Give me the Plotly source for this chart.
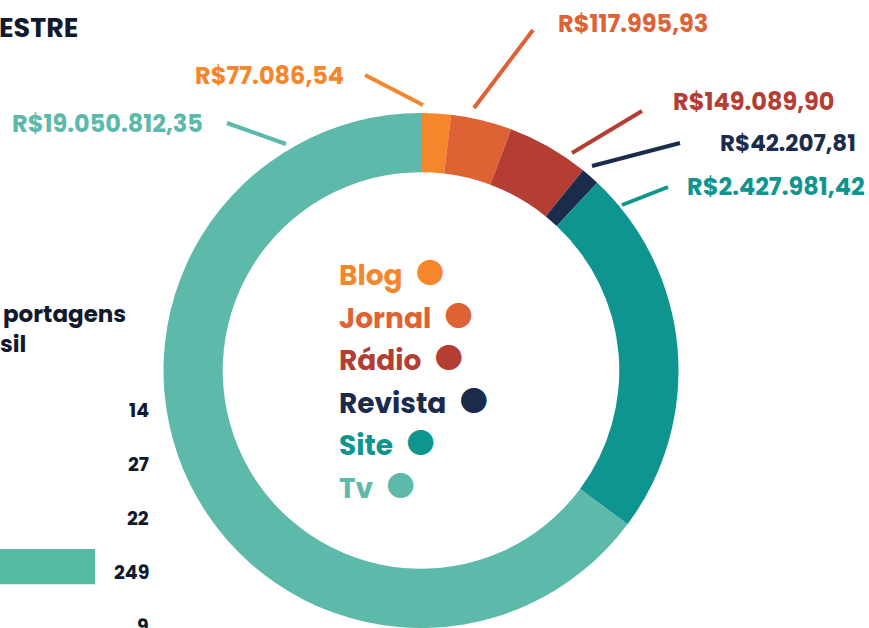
import plotly.graph_objects as go

W, H = 869, 628

# ring slices (the source ring is not drawn to scale: shares)
channels = ["Blog", "Jornal", "Rádio", "Revista", "Site", "Tv"]
ring_share = [1.86, 3.83, 5.14, 1.17, 23.19, 64.81]
amounts = ["R$77.086,54", "R$117.995,93", "R$149.089,90",
           "R$42.207,81", "R$2.427.981,42", "R$19.050.812,35"]
colors = ["#F5862B", "#DE6234", "#B43D34", "#1B2B4B", "#0F958F", "#5DB9A9"]

# partly visible bar chart on the left
bar_rows = ["a", "b", "c", "d", "e"]
bar_values = [14, 27, 22, 249, 9]

FONT = "Poppins, Inter, sans-serif"
NAVY = "#111a2c"


def px(x):
    return x / W


def py(y):
    return 1 - y / H


fig = go.Figure()

fig.add_trace(go.Pie(
    labels=channels, values=ring_share,
    marker=dict(colors=colors, line=dict(width=0)),
    hole=0.77, sort=False, direction="clockwise", rotation=0,
    textinfo="none", hoverinfo="label",
    domain=dict(x=[px(163), px(679)], y=[0, py(113)]),
))

fig.add_trace(go.Bar(
    x=bar_values, y=bar_rows, orientation="h",
    marker=dict(color="#52BBA0", line=dict(width=0)),
    width=0.65, offset=-0.425, hoverinfo="x",
))

# value labels of the ring
label_pos = {
    # name: (x, y, anchor, line from, line to)
    "Blog": (346, 75, "right", (365, 75), (423, 105)),
    "Jornal": (556, 24, "left", (533, 30), (474, 108)),
    "Rádio": (671, 101, "left", (642, 111), (572, 153)),
    "Revista": (718, 143, "left", (680, 143), (592, 166)),
    "Site": (685, 186, "left", (668, 187), (622, 205)),
    "Tv": (205, 123, "right", (227, 123), (286, 144)),
}

annotations = []
shapes = []
for name, amt, col in zip(channels, amounts, colors):
    x, y, anchor, p0, p1 = label_pos[name]
    annotations.append(dict(
        x=px(x), y=py(y), xref="paper", yref="paper",
        xanchor=anchor, yanchor="middle", showarrow=False,
        text=amt, font=dict(family=FONT, size=24 if name != "Revista" else 23,
                            color=col, weight=700),
    ))
    shapes.append(dict(
        type="line", xref="paper", yref="paper",
        x0=px(p0[0]), y0=py(p0[1]), x1=px(p1[0]), y1=py(p1[1]),
        line=dict(color=col, width=4),
    ))

# legend in the hole
for i, (name, col) in enumerate(zip(channels, colors)):
    annotations.append(dict(
        x=px(337), y=py(273 + 42.6 * i), xref="paper", yref="paper",
        xanchor="left", yanchor="middle", showarrow=False,
        text=f"{name}&nbsp;&nbsp;<span style='font-size:34px'>●</span>",
        font=dict(family=FONT, size=28, color=col, weight=700),
    ))

# numbers beside the bars
for row, v in zip(bar_rows, bar_values):
    annotations.append(dict(
        x=px(151), y=row, xref="paper", yref="y",
        xanchor="right", yanchor="middle", showarrow=False,
        text=str(v), font=dict(family=FONT, size=19, color=NAVY, weight=700),
    ))

# cut-off headings
heads = [("ESTRE", 80, 28, 27), ("portagens", 128, 314, 23), ("sil", 28, 344, 23)]
for txt, x, y, size in heads:
    annotations.append(dict(
        x=px(x), y=py(y), xref="paper", yref="paper", xanchor="right", yanchor="middle",
        showarrow=False, text=txt,
        font=dict(family=FONT, size=size, color=NAVY, weight=700),
    ))

fig.update_layout(
    width=W, height=H,
    margin=dict(l=0, r=0, t=0, b=0),
    paper_bgcolor="white", plot_bgcolor="white",
    showlegend=False,
    xaxis=dict(range=[200, 200 + 49 * W / 95], visible=False, domain=[0, 1]),
    yaxis=dict(range=[(H - 410) / 54, -410 / 54], visible=False, domain=[0, 1]),
    annotations=annotations, shapes=shapes,
)

fig.write_html("out.html", config={"displayModeBar": False},
               post_script="document.body.style.margin='0px';")
